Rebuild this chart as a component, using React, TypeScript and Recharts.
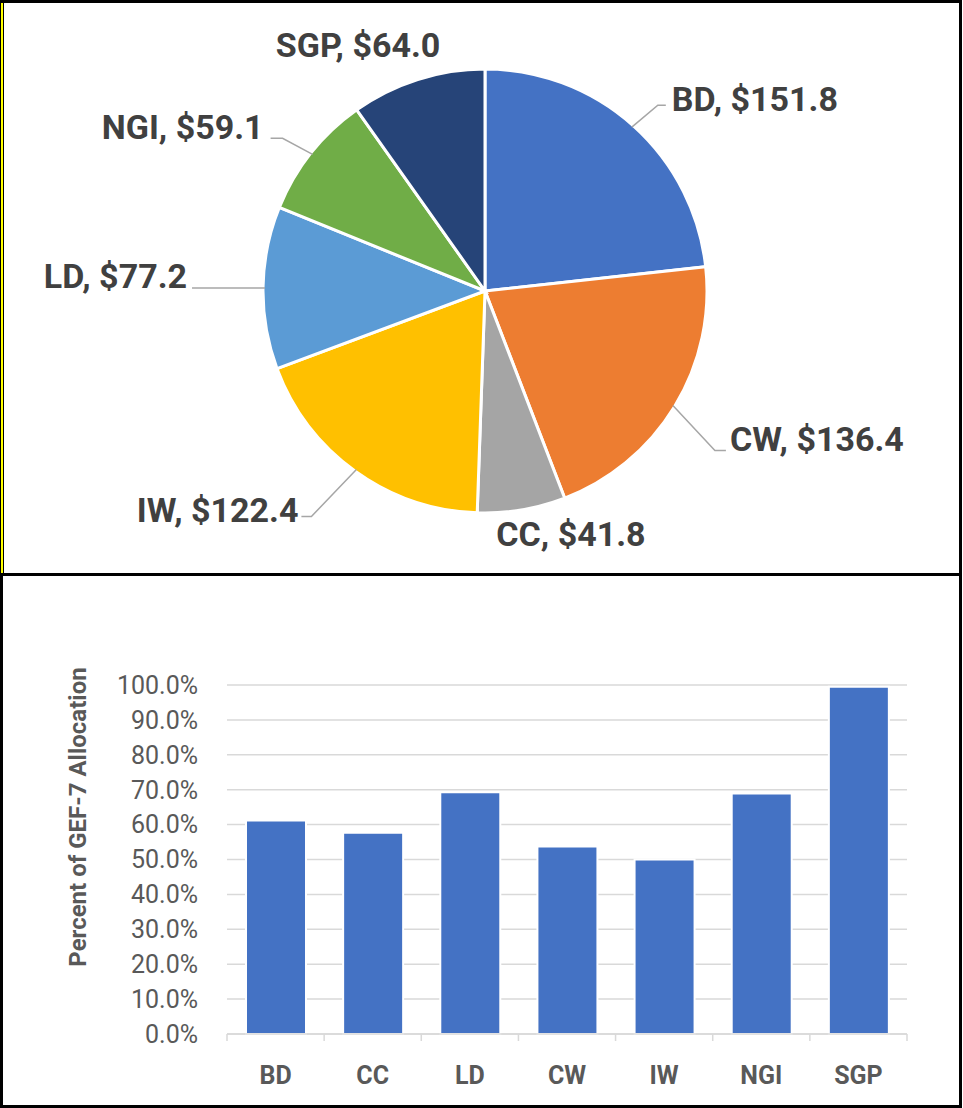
import React from 'react';
import { PieChart, Pie, Cell, BarChart, Bar, XAxis, YAxis, CartesianGrid } from 'recharts';

// ---- Pie data (GEF-7 allocation, $ millions) ----
const pieNames = ['BD', 'CW', 'CC', 'IW', 'LD', 'NGI', 'SGP'];
const pieValues = [151.8, 136.4, 41.8, 122.4, 77.2, 59.1, 64.0];
const pieColors = ['#4472C4', '#ED7D31', '#A5A5A5', '#FFC000', '#5B9BD5', '#70AD47', '#264478'];

// ---- Bar data (percent of GEF-7 allocation) ----
const barCategories = ['BD', 'CC', 'LD', 'CW', 'IW', 'NGI', 'SGP'];
const barValues = [61.2, 57.7, 69.3, 53.7, 50.0, 68.9, 99.5];
const yTicks = [0, 10, 20, 30, 40, 50, 60, 70, 80, 90, 100];

const pieData = pieNames.map((name, i) => ({ name, value: pieValues[i] }));
const barData = barCategories.map((name, i) => ({ name, value: barValues[i] }));

const FONT = 'Roboto, "Open Sans", sans-serif';
const RAD = Math.PI / 180;

// label layout (leader elbow offsets from the slice edge point)
type LL = { line: boolean; ex?: number; ey?: number; run?: number; gap?: number; dy?: number; tx?: number; ty?: number; anchor?: 'start' | 'end' };
const labelLayout: LL[] = [
  { line: true, ex: 26, ey: -22, run: 8, gap: 6, dy: -6.5 },
  { line: true, ex: 42, ey: 45, run: 11, gap: 4, dy: -12 },
  { line: false, tx: -25, ty: 26, anchor: 'start' },
  { line: true, ex: -45, ey: 47, run: 10, gap: 3, dy: -7 },
  { line: true, ex: -3, ey: 0, run: 70, gap: 5, dy: -12 },
  { line: true, ex: -30, ey: -16, run: 12, gap: 7, dy: -11 },
  { line: false, tx: 22, ty: -36, anchor: 'end' },
];

const LABEL_SIZE = 34;

const renderPieLabel = (props: any) => {
  const { cx, cy, midAngle, outerRadius, index, name, value } = props;
  const r = outerRadius - 2;
  const px = cx + r * Math.cos(midAngle * RAD);
  const py = cy - r * Math.sin(midAngle * RAD);
  const L = labelLayout[index];
  const text = `${name}, $${Number(value).toFixed(1)}`;
  const capShift = LABEL_SIZE * 0.355;
  if (!L.line) {
    return (
      <text
        x={px + (L.tx || 0)}
        y={py + (L.ty || 0) + capShift}
        textAnchor={L.anchor}
        fontFamily={FONT}
        fontWeight="bold"
        fontSize={LABEL_SIZE}
        fill="#404040"
      >
        {text}
      </text>
    );
  }
  const right = (L.ex || 0) >= 0;
  const side = right ? 1 : -1;
  const bx = px + (L.ex || 0);
  const by = py + (L.ey || 0);
  const endX = bx + side * (L.run || 0);
  return (
    <g>
      <polyline
        points={`${px},${py} ${bx},${by} ${endX},${by}`}
        fill="none"
        stroke="#A6A6A6"
        strokeWidth={1.5}
      />
      <text
        x={endX + side * (L.gap || 0)}
        y={by + (L.dy || 0) + capShift}
        textAnchor={right ? 'start' : 'end'}
        fontFamily={FONT}
        fontWeight="bold"
        fontSize={LABEL_SIZE}
        fill="#404040"
      >
        {text}
      </text>
    </g>
  );
};

const BAR_W = 963;
const BAR_H = 535;
const Y_AXIS_W = 227;
const MARGIN_R = 56;
const PLOT_W = BAR_W - Y_AXIS_W - MARGIN_R;

const XTick = (props: any) => {
  const { x, y, payload, index } = props;
  const band = PLOT_W / barCategories.length;
  const last = index === barCategories.length - 1;
  return (
    <g>
      <line x1={x - band / 2} x2={x - band / 2} y1={y} y2={y + 7} stroke="#D9D9D9" strokeWidth={1.5} />
      {last && <line x1={x + band / 2} x2={x + band / 2} y1={y} y2={y + 7} stroke="#D9D9D9" strokeWidth={1.5} />}
      <text x={x} y={y + 50} textAnchor="middle" fontFamily={FONT} fontWeight="bold" fontSize={25} fill="#595959">
        {payload.value}
      </text>
    </g>
  );
};

const YTitle = () => (
  <text
    x={78}
    y={244}
    transform="rotate(-90 78 244)"
    textAnchor="middle"
    dominantBaseline="central"
    fontFamily={FONT}
    fontWeight="bold"
    fontSize={24}
    fill="#595959"
  >
    Percent of GEF-7 Allocation
  </text>
);

export default function App() {
  return (
    <div style={{ position: 'absolute', left: 0, top: 0, width: 963, height: 1108, background: '#fff', overflow: 'hidden' }}>
      <div style={{ position: 'absolute', left: 0, top: 0 }}>
        <PieChart width={963} height={573} margin={{ top: 0, right: 0, bottom: 0, left: 0 }}>
          <Pie
            data={pieData}
            dataKey="value"
            nameKey="name"
            cx={485}
            cy={291}
            outerRadius={222}
            startAngle={90}
            endAngle={-270}
            stroke="#FFFFFF"
            strokeWidth={3}
            label={renderPieLabel}
            labelLine={false}
            isAnimationActive={false}
          >
            {pieData.map((d, i) => (
              <Cell key={d.name} fill={pieColors[i]} />
            ))}
          </Pie>
        </PieChart>
      </div>
      <div style={{ position: 'absolute', left: 0, top: 573 }}>
        <BarChart width={BAR_W} height={BAR_H} data={barData} margin={{ top: 112, right: MARGIN_R, bottom: 0, left: 0 }}>
          <CartesianGrid horizontal vertical={false} stroke="#D9D9D9" strokeWidth={1.5} />
          <XAxis
            dataKey="name"
            height={BAR_H - 112 - 349}
            interval={0}
            tickLine={false}
            tickSize={0}
            tickMargin={0}
            axisLine={{ stroke: '#D9D9D9', strokeWidth: 1.5 }}
            tick={<XTick />}
          />
          <YAxis
            width={Y_AXIS_W}
            domain={[0, 100]}
            ticks={yTicks}
            interval={0}
            axisLine={false}
            tickLine={false}
            tickSize={0}
            tickMargin={29}
            tickFormatter={(v: number) => `${v.toFixed(1)}%`}
            tick={{ fontFamily: FONT, fontSize: 25, fill: '#595959' }}
            label={<YTitle />}
          />
          <Bar dataKey="value" fill="#4472C4" stroke="#FFFFFF" strokeWidth={2} barSize={60} isAnimationActive={false} />
        </BarChart>
      </div>
      {/* panel borders */}
      <div style={{ position: 'absolute', left: 0, top: 0, width: 962, height: 576, boxSizing: 'border-box', border: '3px solid #000', borderLeftWidth: 4, pointerEvents: 'none' }} />
      <div style={{ position: 'absolute', left: 1, top: 3, width: 2, height: 570, background: '#FFFF00', pointerEvents: 'none' }} />
      <div style={{ position: 'absolute', left: 0, top: 573, width: 962, height: 535, boxSizing: 'border-box', border: '3px solid #000', pointerEvents: 'none' }} />
    </div>
  );
}
